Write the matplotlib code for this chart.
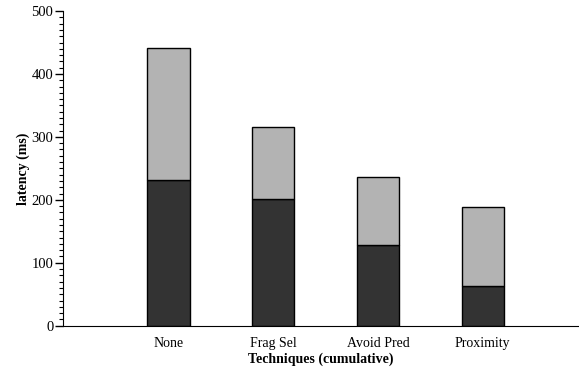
import matplotlib
matplotlib.use("Agg")
import matplotlib.pyplot as plt
import numpy as np
from matplotlib.ticker import MultipleLocator

# Data (latency in ms)
techniques = ['None', 'Frag Sel', 'Avoid Pred', 'Proximity']
bottom_part = [232, 201, 128, 63]
total = [442, 316, 237, 188]
top_part = [t - b for t, b in zip(total, bottom_part)]

plt.rcParams['font.family'] = ['Liberation Serif', 'DejaVu Serif']

fig = plt.figure(figsize=(5.79, 3.68), dpi=100)
ax = fig.add_axes([0.1088, 0.115, 0.8912, 0.855])

x = np.arange(len(techniques))
width = 0.404

ax.bar(x, bottom_part, width, color='#333333', edgecolor='black', linewidth=1)
ax.bar(x, top_part, width, bottom=bottom_part, color='#b3b3b3',
       edgecolor='black', linewidth=1)

ax.set_xlim(-1.008, 3.92)
ax.set_ylim(0, 500)
ax.set_xticks(x)
ax.set_xticklabels(techniques, fontsize=10)
ax.tick_params(axis='x', length=0, pad=8)
ax.yaxis.set_major_locator(MultipleLocator(100))
ax.yaxis.set_minor_locator(MultipleLocator(10))
ax.tick_params(axis='y', which='major', length=6, width=1, labelsize=10.5, pad=1)
ax.tick_params(axis='y', which='minor', length=3, width=0.8)

ax.spines['top'].set_visible(False)
ax.spines['right'].set_visible(False)

ax.set_xlabel('Techniques (cumulative)', fontsize=10, fontweight='bold', labelpad=2)
ax.set_ylabel('latency (ms)', fontsize=10, fontweight='bold', labelpad=1)

fig.savefig('out.png', dpi=100)
